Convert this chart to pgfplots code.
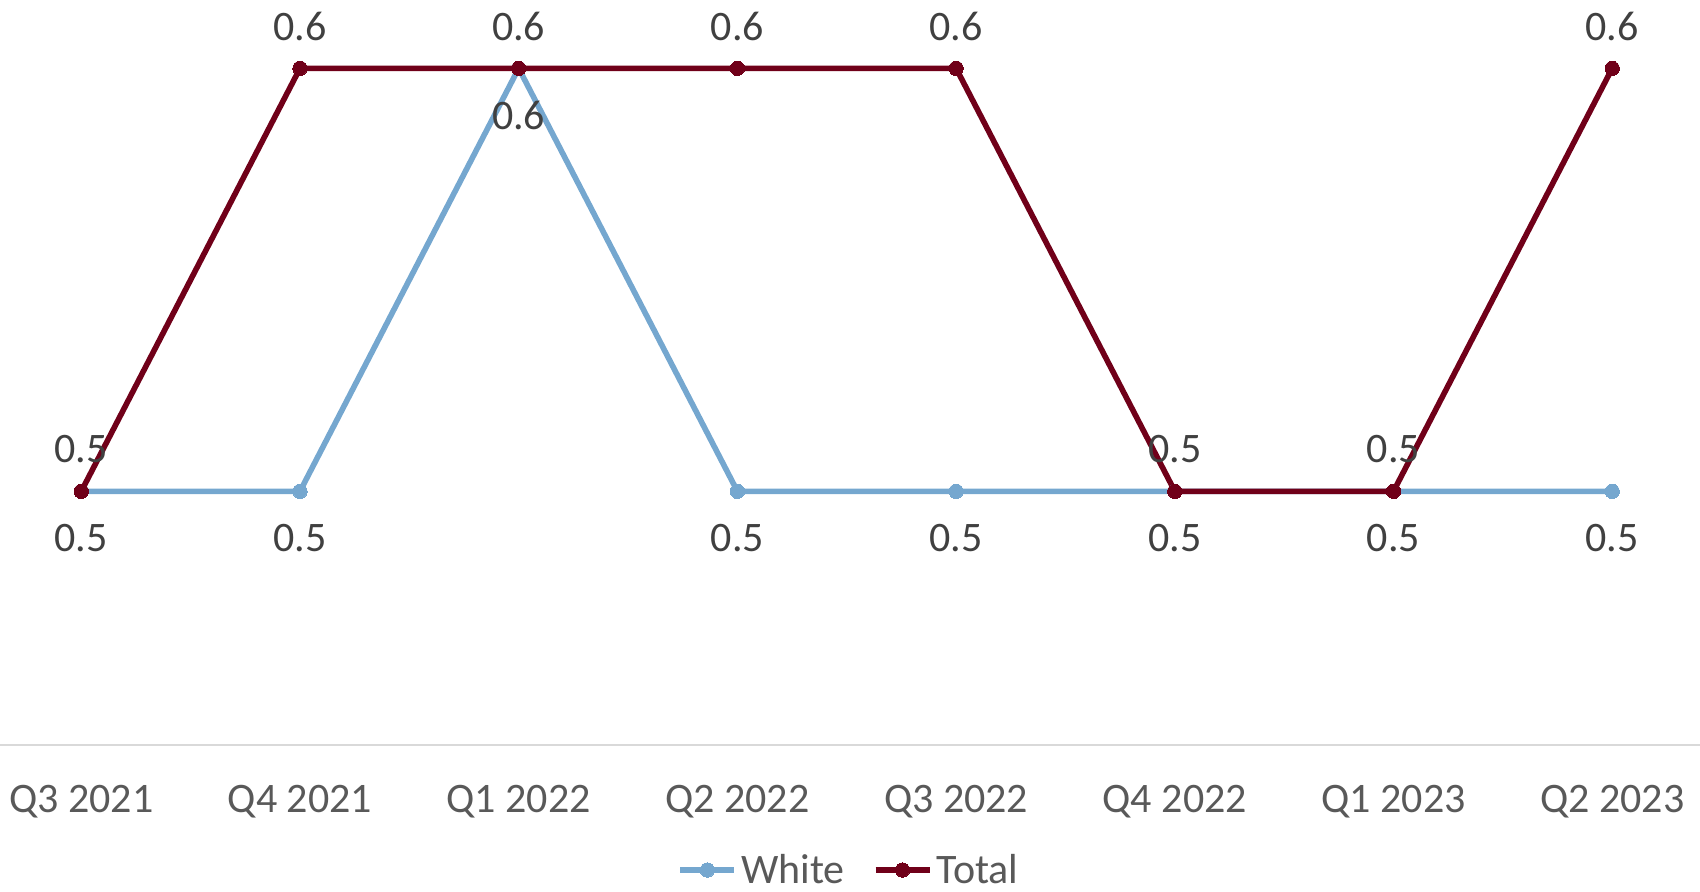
\documentclass[border=0pt]{standalone}
\usepackage{fontspec}
\setmainfont{Carlito}
\usepackage{pgfplots}
\pgfplotsset{compat=1.18}
\definecolor{cwhite}{RGB}{117,167,207}
\definecolor{ctotal}{RGB}{112,0,25}
\definecolor{lbl}{RGB}{64,64,64}
\definecolor{tickc}{RGB}{89,89,89}
\definecolor{axl}{RGB}{217,217,217}
\begin{document}
\begin{tikzpicture}
\useasboundingbox (0,-73pt) rectangle (850pt,372.5pt);
\begin{axis}[
  at={(0,0)}, anchor=south west,
  scale only axis, width=850pt, height=372.5pt,
  xmin=-0.3717, xmax=7.4015, ymin=0.44002, ymax=0.61615,
  axis x line=bottom, axis y line=none,
  x axis line style={draw=axl, line width=1pt, -},
  xtick={0,1,2,3,4,5,6,7},
  xticklabels={Q3 2021,Q4 2021,Q1 2022,Q2 2022,Q3 2022,Q4 2022,Q1 2023,Q2 2023},
  major tick length=0pt,
  x tick label style={font=\fontsize{21}{25}\selectfont, text=tickc, anchor=base, yshift=-33.5pt},
  clip=false,
  /pgf/number format/assume math mode=true,
  legend style={at={(0.5,0)}, anchor=center, yshift=-62.5pt, draw=none, fill=none,
    legend columns=-1, font=\fontsize{21}{25}\selectfont, text=tickc,
    inner sep=0pt,
    /tikz/every even column/.append style={column sep=12pt}},
  legend cell align=left,
  legend image code/.code={\draw[mark repeat=2,mark phase=2,#1] plot coordinates {(0pt,0pt) (13.5pt,0pt) (27pt,0pt)};},
]
\addplot[color=cwhite, line width=2.8pt, mark=*, mark size=3.6pt, mark options={solid, fill=cwhite, draw=cwhite, line width=0pt},
  nodes near coords={\pgfmathprintnumber[fixed,fixed zerofill,precision=1]{\pgfplotspointmeta}},
  every node near coord/.append style={font=\fontsize{21}{25}\selectfont, text=lbl, anchor=center, yshift=-23.5pt}]
  coordinates {(0,0.5) (1,0.5) (2,0.6) (3,0.5) (4,0.5) (5,0.5) (6,0.5) (7,0.5)};
\addlegendentry{White}
\addplot[color=ctotal, line width=2.8pt, mark=*, mark size=3.6pt, mark options={solid, fill=ctotal, draw=ctotal, line width=0pt},
  nodes near coords={\pgfmathprintnumber[fixed,fixed zerofill,precision=1]{\pgfplotspointmeta}},
  every node near coord/.append style={font=\fontsize{21}{25}\selectfont, text=lbl, anchor=center, yshift=21pt}]
  coordinates {(0,0.5) (1,0.6) (2,0.6) (3,0.6) (4,0.6) (5,0.5) (6,0.5) (7,0.6)};
\addlegendentry{Total}
\end{axis}
\end{tikzpicture}
\end{document}
